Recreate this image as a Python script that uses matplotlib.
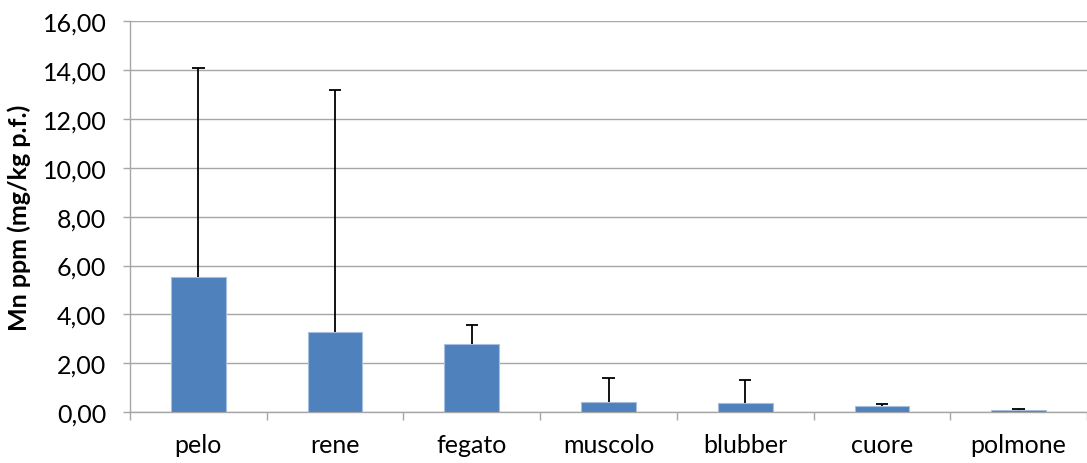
import matplotlib.pyplot as plt
import numpy as np
from matplotlib.ticker import FuncFormatter, FixedLocator

plt.rcParams['font.family'] = ['Lato', 'DejaVu Sans']

tessuti = ["pelo", "rene", "fegato", "muscolo", "blubber", "cuore", "polmone"]
media = [5.52, 3.30, 2.78, 0.42, 0.39, 0.26, 0.08]
dev_std = [8.54, 9.88, 0.79, 1.00, 0.94, 0.07, 0.04]

fig = plt.figure(figsize=(10.87, 4.64), dpi=100)
ax = fig.add_axes([0.1196, 0.1093, 0.8804, 0.8433])

x = np.arange(len(tessuti))
ax.bar(x, media, width=0.40, color="#4F81BD", edgecolor="#A7BFDE", linewidth=0.8, zorder=3)

# barre d'errore solo verso l'alto
cima = np.array(media) + np.array(dev_std)
ax.vlines(x, media, cima, color="black", linewidth=1.3, zorder=4)
ax.hlines(cima, x - 0.045, x + 0.045, color="black", linewidth=1.3, zorder=4)

ax.set_xlim(-0.5, len(tessuti) - 0.5)
ax.set_ylim(0, 16)
ax.set_yticks(np.arange(0, 17, 2))
ax.yaxis.set_major_formatter(FuncFormatter(lambda v, _: f"{v:.2f}".replace(".", ",")))
ax.yaxis.grid(True, color="#A6A6A6", linewidth=1.0, zorder=0)

ax.set_xticks(x)
ax.set_xticklabels(tessuti)
ax.xaxis.set_minor_locator(FixedLocator(np.arange(-0.5, len(tessuti), 1.0)))
ax.tick_params(axis="x", which="major", length=0, pad=15, labelsize=18)
ax.tick_params(axis="x", which="minor", length=6, color="#A6A6A6", width=1.0)
ax.tick_params(axis="y", length=5, color="#A6A6A6", width=1.0, labelsize=18, pad=12)

for side in ("top", "right"):
    ax.spines[side].set_visible(False)
for side in ("left", "bottom"):
    ax.spines[side].set_color("#A6A6A6")
    ax.spines[side].set_linewidth(1.0)

ax.set_ylabel("Mn ppm (mg/kg p.f.)", fontsize=18, fontweight="bold", labelpad=8)

fig.savefig("out.png", dpi=100)
